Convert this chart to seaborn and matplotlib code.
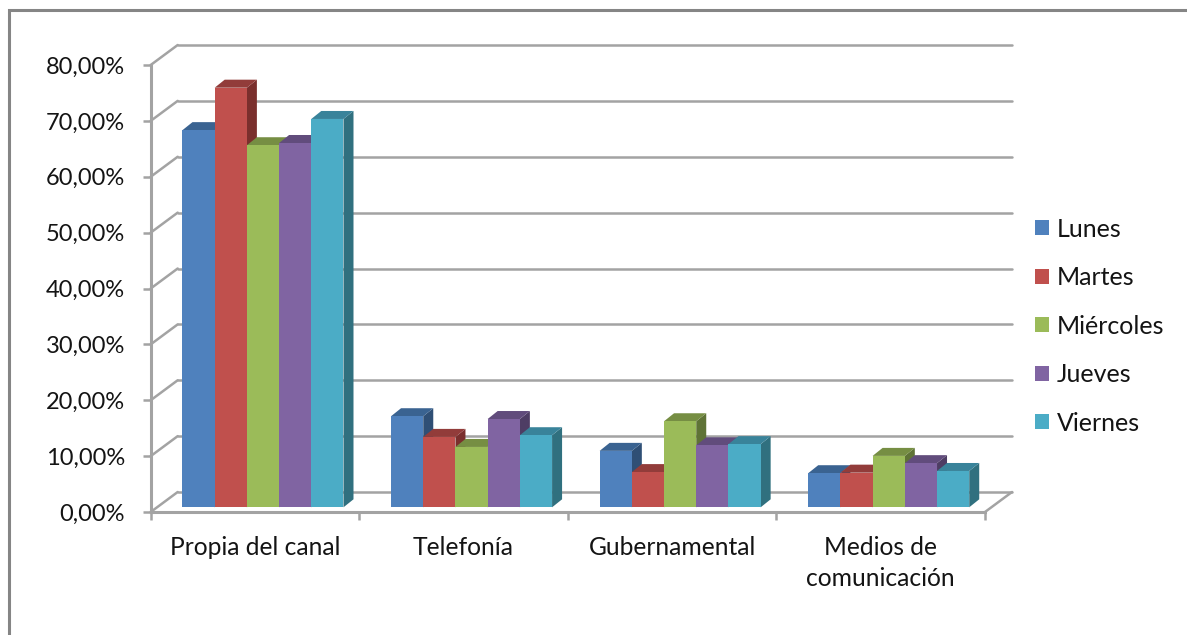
import pandas as pd
import seaborn as sns
import matplotlib.pyplot as plt
from matplotlib.patches import Polygon, Rectangle

categories = ['Propia del canal', 'Telefonía', 'Gubernamental', 'Medios de\ncomunicación']
days = ['Lunes', 'Martes', 'Miércoles', 'Jueves', 'Viernes']
lunes = [67.5, 16.3, 10.1, 6.1]
martes = [75.1, 12.6, 6.3, 6.2]
miercoles = [64.8, 10.8, 15.4, 9.2]
jueves = [65.2, 15.8, 11.1, 7.9]
viernes = [69.5, 12.9, 11.3, 6.5]
y_ticks = [0, 10, 20, 30, 40, 50, 60, 70, 80]
y_labels = ['0,00%', '10,00%', '20,00%', '30,00%', '40,00%', '50,00%', '60,00%', '70,00%', '80,00%']

colors = ['#4F81BD', '#C0504D', '#9BBB59', '#8064A2', '#4BACC6']
top_colors = ['#3A6391', '#923C3A', '#768E43', '#614C7C', '#39839A']
side_colors = ['#2F4F75', '#7A2F2D', '#5F7336', '#4E3D64', '#30707F']
grid_color = '#A3A3A3'
text_color = '#141414'

W, H = 1187, 635


def px_axes(fig, left, right, top, bottom):
    return fig.add_axes([left / W, 1 - bottom / H, (right - left) / W, (bottom - top) / H])


def draw_back_wall(ax, dx, dy):
    # gridlines sit on the back wall, joined to the axis by a diagonal
    for t in y_ticks:
        ax.plot([-0.5, -0.5 + dx], [t, t + dy], color=grid_color, lw=1.8, clip_on=False, zorder=1)
        ax.plot([-0.5 + dx, 3.5 + dx], [t + dy, t + dy], color=grid_color, lw=1.8, clip_on=False, zorder=1)
    ax.plot([3.5, 3.5 + dx], [0, dy], color=grid_color, lw=1.8, clip_on=False, zorder=1)


def make_bars_3d(ax, shift_x, shift_y, depth_x, depth_y):
    bars = [p for c in ax.containers for p in c]
    for i, bar in enumerate(bars):
        idx = i // 4
        x0 = bar.get_x() + shift_x
        w = bar.get_width()
        h = bar.get_height()
        y0 = shift_y
        bar.set_x(x0)
        bar.set_y(y0)
        bar.set_linewidth(0)
        bar.set_edgecolor('none')
        bar.set_clip_on(False)
        bar.set_zorder(3 + idx * 0.1)
        y1 = y0 + h
        x1 = x0 + w
        top = Polygon([(x0, y1), (x1, y1), (x1 + depth_x, y1 + depth_y), (x0 + depth_x, y1 + depth_y)],
                      facecolor=top_colors[idx], edgecolor='none', clip_on=False, zorder=2.5 + idx * 0.1)
        side = Polygon([(x1, y0), (x1 + depth_x, y0 + depth_y), (x1 + depth_x, y1 + depth_y), (x1, y1)],
                       facecolor=side_colors[idx], edgecolor='none', clip_on=False, zorder=2.5 + idx * 0.1)
        ax.add_patch(side)
        ax.add_patch(top)


def main():
    rows = []
    for day, values in zip(days, [lunes, martes, miercoles, jueves, viernes]):
        for cat, v in zip(categories, values):
            rows.append({'categoria': cat, 'dia': day, 'valor': v})
    df = pd.DataFrame(rows)

    sns.set_theme(style='white')
    plt.rcParams['font.family'] = ['Lato', 'DejaVu Sans']

    fig = plt.figure(figsize=(W / 100, H / 100), dpi=100)
    # outer frame only shows on the top and left, the rest is cut off
    fig.add_artist(Rectangle((9.5 / W, -0.02), 1.05, 1.02 - 9.5 / H, transform=fig.transFigure,
                             facecolor='none', edgecolor='#858585', lw=2.2))

    ax = px_axes(fig, 150.7, 985, 65, 512)
    sns.barplot(data=df, x='categoria', y='valor', hue='dia', hue_order=days, order=categories,
                palette=colors, width=0.772, gap=0, saturation=1, errorbar=None, ax=ax)
    ax.set_xlim(-0.5, 3.5)
    ax.set_ylim(0, 80)

    cat_px = (985 - 150.7) / 4
    val_px = (512 - 65) / 80
    draw_back_wall(ax, 27 / cat_px, 20 / val_px)
    make_bars_3d(ax, 8 / cat_px, 4.7 / val_px, 10 / cat_px, 8 / val_px)

    ax.set_xlabel('')
    ax.set_ylabel('')
    ax.set_yticks(y_ticks)
    ax.set_yticklabels(y_labels, fontsize=17, color=text_color)
    ax.set_xticks(range(len(categories)))
    ax.set_xticklabels(categories, fontsize=17.7, color=text_color, linespacing=1.38)
    ax.set_xticks([-0.5, 0.5, 1.5, 2.5, 3.5], minor=True)
    ax.tick_params(axis='x', which='major', length=0, pad=17.5)
    ax.tick_params(axis='x', which='minor', length=6, width=1.8, color=grid_color, bottom=True)
    ax.tick_params(axis='y', length=6, width=1.8, color=grid_color, left=True, pad=12.6)

    for name in ['top', 'right']:
        ax.spines[name].set_visible(False)
    for name in ['left', 'bottom']:
        ax.spines[name].set_color(grid_color)
        ax.spines[name].set_linewidth(2.2)
    ax.patch.set_alpha(0)

    sns.move_legend(ax, 'center left', bbox_to_anchor=(1.06, 0.416), title=None, frameon=False,
                    fontsize=18, labelspacing=1.02, handlelength=0.56, handleheight=0.56, handletextpad=0.32,
                    borderaxespad=0, borderpad=0)
    legend = ax.get_legend()
    for text in legend.get_texts():
        text.set_color(text_color)
    for handle in legend.legend_handles:
        handle.set_edgecolor('none')
        handle.set_linewidth(0)

    fig.savefig('out.png', dpi=100)


if __name__ == '__main__':
    main()
